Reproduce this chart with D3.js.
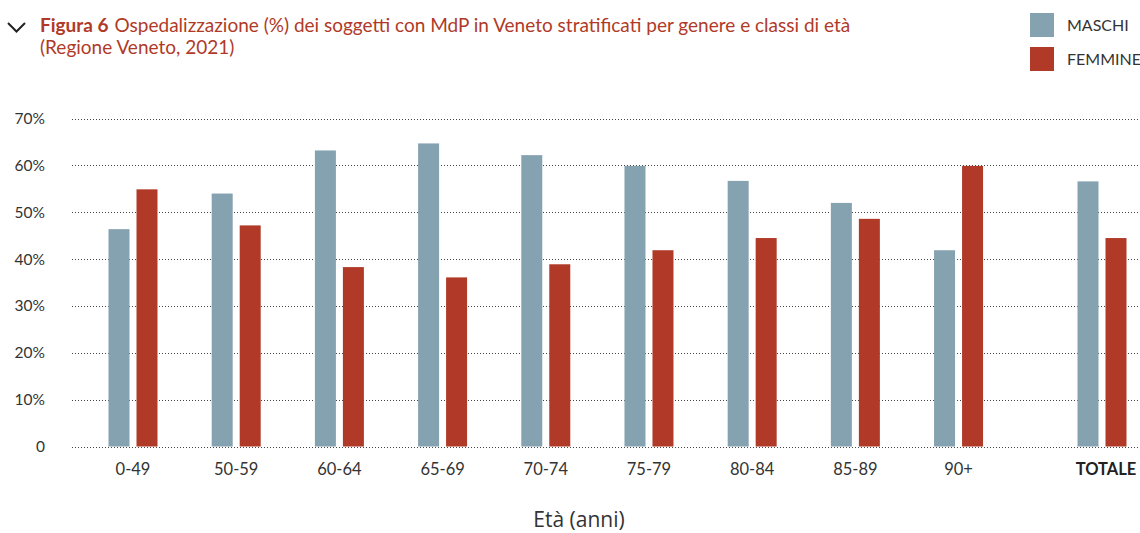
<!DOCTYPE html>
<html>
<head>
<meta charset="utf-8">
<script src="https://cdn.jsdelivr.net/npm/d3@7/dist/d3.min.js"></script>
<style>
  body { margin: 0; background: #fff; overflow: hidden; }
  svg { display: block; font-family: Lato, 'Open Sans', sans-serif; }
</style>
</head>
<body>
<div id="chart"></div>
<script>
// categories and values (%)
var categories = ['0-49', '50-59', '60-64', '65-69', '70-74', '75-79', '80-84', '85-89', '90+', 'TOTALE']
var maschi = [46.4, 54.0, 63.2, 64.7, 62.2, 59.9, 56.7, 52.0, 41.9, 56.6]
var femmine = [54.9, 47.2, 38.3, 36.1, 38.9, 41.9, 44.5, 48.6, 59.9, 44.5]
var yTicks = [0, 10, 20, 30, 40, 50, 60, 70]
var seriesNames = ['MASCHI', 'FEMMINE']

var colors = { MASCHI: '#85a2b0', FEMMINE: '#b03a27' }

var width = 1140
var height = 533

var svg = d3.select('#chart')
  .append('svg')
  .attr('width', width)
  .attr('height', height)

// y scale
var yPositionScale = d3.scaleLinear()
  .domain([0, 70])
  .range([446.5, 118.6])

// x position of each group: TOTALE sits a little further out
var groupIndex = function(i) {
  return i < 9 ? i : i + 0.39
}
var xPositionScale = d3.scaleLinear()
  .domain([0, 9.39])
  .range([133, 1102])

var barWidth = 21
var barGap = 7

// gridlines
var grid = svg.append('g').attr('class', 'grid')
grid.selectAll('line')
  .data(yTicks)
  .enter()
  .append('line')
  .attr('x1', 72)
  .attr('x2', width)
  .attr('y1', d => Math.round(yPositionScale(d)) + 0.5)
  .attr('y2', d => Math.round(yPositionScale(d)) + 0.5)
  .attr('stroke', '#444')
  .attr('stroke-width', 1)
  .attr('stroke-dasharray', '1,2')

// y axis labels
var yAxis = d3.axisLeft(yPositionScale)
  .tickValues(yTicks)
  .tickSize(0)
  .tickPadding(0)
  .tickFormat(d => d === 0 ? '0' : d + '%')
svg.append('g')
  .attr('class', 'axis y-axis')
  .attr('transform', 'translate(45,0)')
  .call(yAxis)
  .call(g => g.select('.domain').remove())
  .selectAll('text')
  .attr('font-size', '15.5px')
  .attr('font-family', 'Lato, sans-serif')
  .attr('fill', '#333')

// bars
var groups = svg.selectAll('.group')
  .data(categories)
  .enter()
  .append('g')
  .attr('class', 'group')
  .attr('transform', (d, i) => 'translate(' + xPositionScale(groupIndex(i)) + ',0)')

groups.append('rect')
  .attr('x', -barWidth - barGap / 2)
  .attr('width', barWidth)
  .attr('y', (d, i) => yPositionScale(maschi[i]))
  .attr('height', (d, i) => yPositionScale(0) - yPositionScale(maschi[i]))
  .attr('fill', colors.MASCHI)

groups.append('rect')
  .attr('x', barGap / 2)
  .attr('width', barWidth)
  .attr('y', (d, i) => yPositionScale(femmine[i]))
  .attr('height', (d, i) => yPositionScale(0) - yPositionScale(femmine[i]))
  .attr('fill', colors.FEMMINE)

groups.append('text')
  .text(d => d)
  .attr('x', (d, i) => i === 9 ? 4 : 0)
  .attr('y', 475)
  .attr('text-anchor', 'middle')
  .attr('font-size', '16.5px')
  .attr('font-weight', d => d === 'TOTALE' ? 'bold' : 'normal')
  .attr('fill', d => d === 'TOTALE' ? '#222' : '#333')

// x axis title
svg.append('text')
  .text('Età (anni)')
  .attr('x', 579)
  .attr('y', 527)
  .attr('text-anchor', 'middle')
  .attr('font-family', "'Open Sans', sans-serif")
  .attr('font-size', '21px')
  .attr('fill', '#333')

// title
svg.append('path')
  .attr('d', 'M8,23 L16.5,31.5 L25,23')
  .attr('fill', 'none')
  .attr('stroke', '#222')
  .attr('stroke-width', 2)

var title = svg.append('text')
  .attr('x', 40)
  .attr('y', 32)
  .attr('font-size', '19px')
  .attr('fill', '#b03a27')
title.append('tspan')
  .attr('font-weight', 'bold')
  .text('Figura 6')
title.append('tspan')
  .attr('dx', 6)
  .text('Ospedalizzazione (%) dei soggetti con MdP in Veneto stratificati per genere e classi di età')
svg.append('text')
  .attr('x', 40)
  .attr('y', 54)
  .attr('font-size', '19px')
  .attr('fill', '#b03a27')
  .text('(Regione Veneto, 2021)')

// legend
var legend = svg.selectAll('.legend')
  .data(seriesNames)
  .enter()
  .append('g')
  .attr('class', 'legend')
  .attr('transform', (d, i) => 'translate(1030,' + (13 + i * 34) + ')')
legend.append('rect')
  .attr('width', 24)
  .attr('height', 24)
  .attr('fill', d => colors[d])
legend.append('text')
  .text(d => d)
  .attr('x', 37)
  .attr('y', 18)
  .attr('font-size', '16px')
  .attr('fill', '#333')
</script>
</body>
</html>
